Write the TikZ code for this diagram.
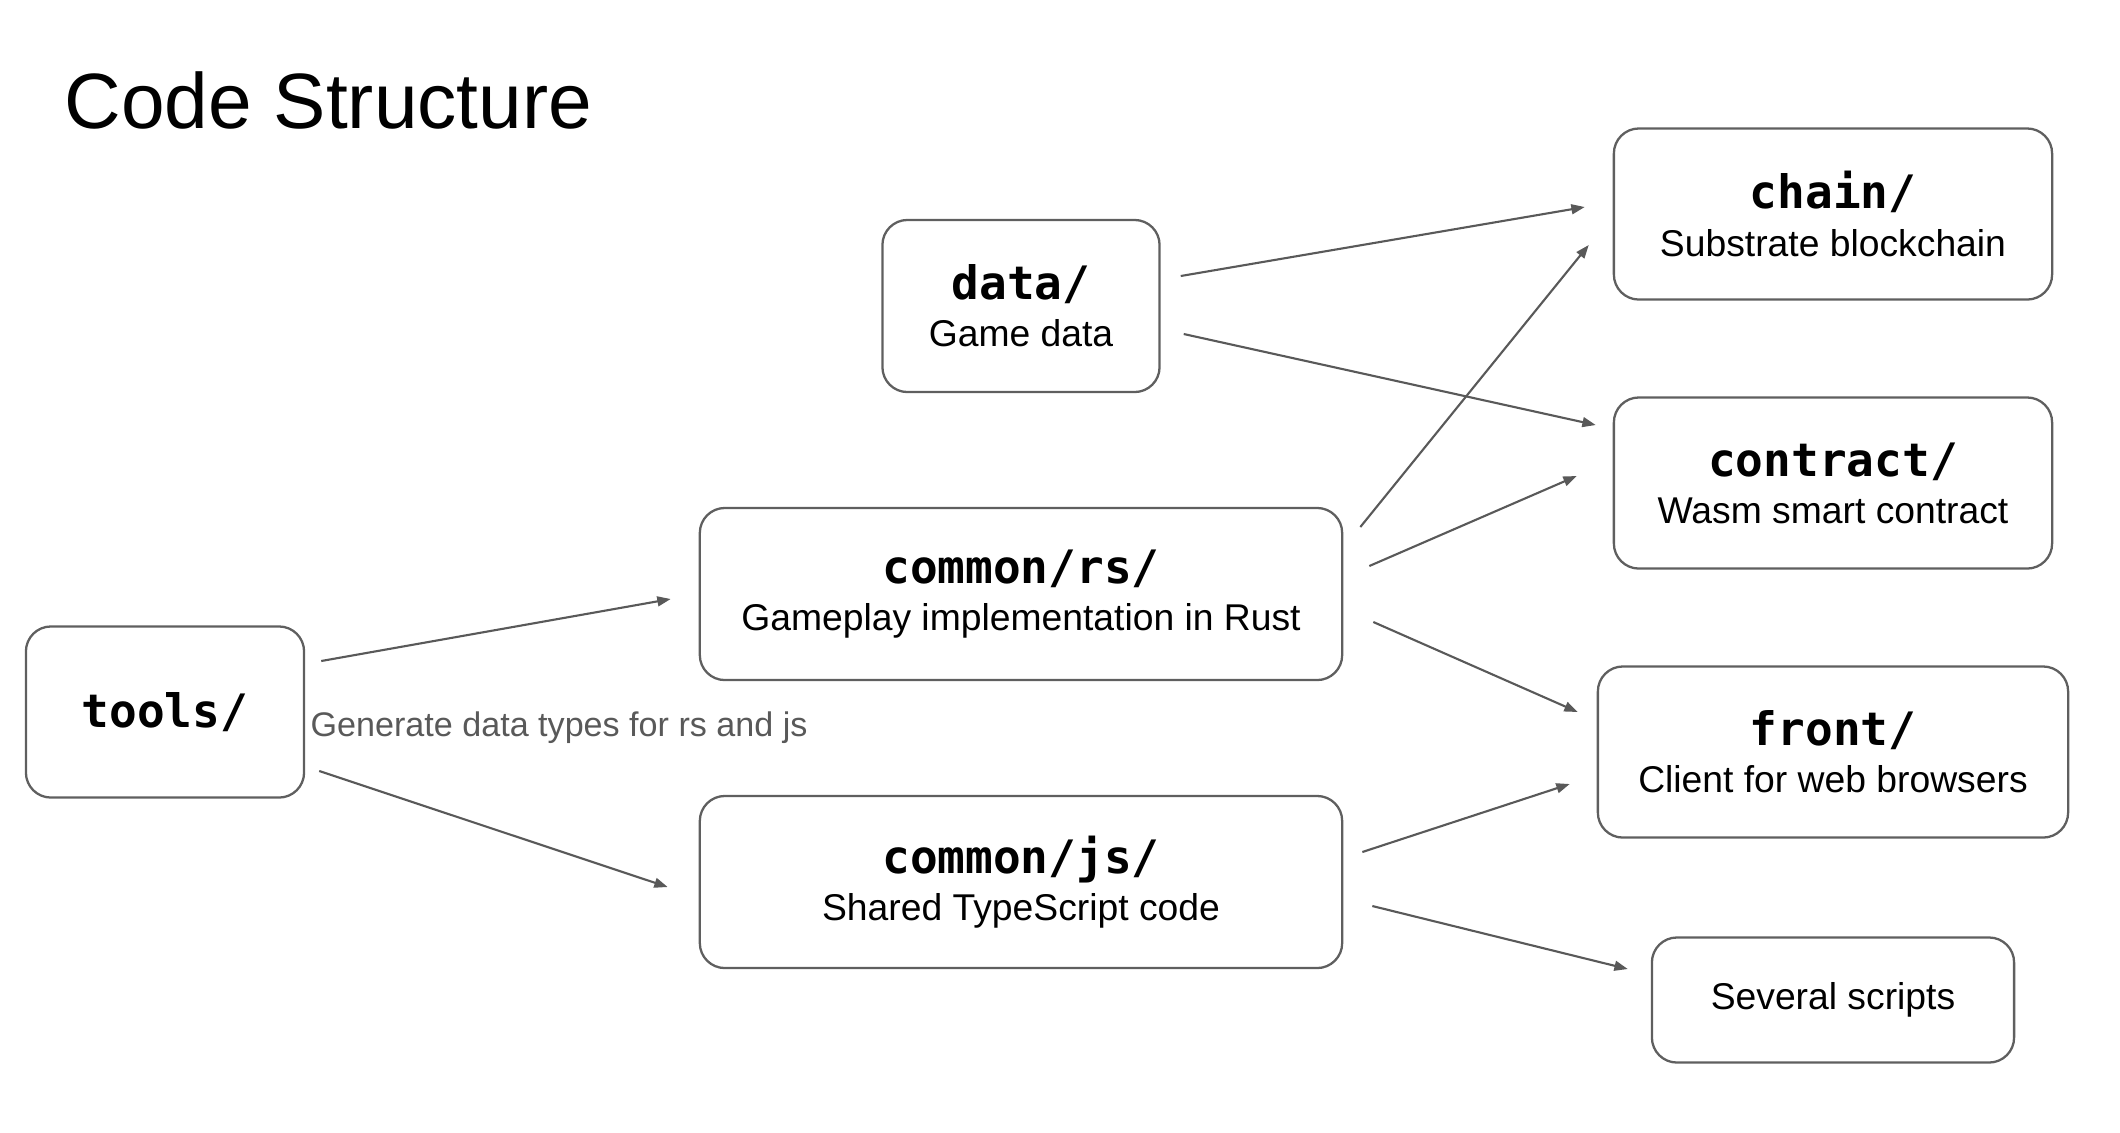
\documentclass[tikz,border=0pt]{standalone}
\usepackage{fontspec}
\setmainfont{Liberation Sans}
\newfontfamily\codefont{DejaVu Sans Mono}
\usetikzlibrary{arrows.meta,calc}

\definecolor{boxgray}{HTML}{5F5F5F}
\definecolor{linegray}{HTML}{595959}
\newcommand{\dirname}[1]{{\codefont\bfseries\fontsize{13.1}{13.1}\selectfont #1}}

\begin{document}
\begin{tikzpicture}
[x=0.01cm, y=-0.01cm,
box/.style={rectangle, draw=boxgray, line width=0.65pt, rounded corners=0.25cm, inner sep=0pt, align=center, font=\fontsize{10.6}{13.4}\selectfont},
link/.style={draw=linegray, line width=0.6pt, -{Triangle[length=3.8pt,width=2.8pt]}}]

\useasboundingbox (0,0) rectangle (2120,1132);

\node[anchor=base west, inner sep=0pt, font=\fontsize{22.3}{26}\selectfont] (title) at (64,128) {Code Structure};

% left and middle column
\node[box, minimum width=2.78cm, minimum height=1.71cm] (tools) at (165,712) {\dirname{tools/}};
\node[box, minimum width=2.77cm, minimum height=1.72cm] (data) at (1021,306) {\dirname{data/}\\Game data};
\node[box, minimum width=6.42cm, minimum height=1.72cm] (rs) at (1021,594) {\dirname{common/rs/}\\Gameplay implementation in Rust};
\node[box, minimum width=6.42cm, minimum height=1.72cm] (js) at (1021,882) {\dirname{common/js/}\\Shared TypeScript code};

% right column
\node[box, minimum width=4.38cm, minimum height=1.71cm] (chain) at (1833,214) {\dirname{chain/}\\Substrate blockchain};
\node[box, minimum width=4.38cm, minimum height=1.71cm] (contract) at (1833,483) {\dirname{contract/}\\Wasm smart contract};
\node[box, minimum width=4.70cm, minimum height=1.71cm] (front) at (1833,752) {\dirname{front/}\\Client for web browsers};
\node[box, minimum width=3.62cm, minimum height=1.25cm] (scripts) at (1833,1000) {Several scripts};

\node[anchor=base west, inner sep=0pt, text=linegray, font=\fontsize{9.7}{12}\selectfont] (gen) at (310,736) {Generate data types for rs and js};

\draw[link] ($(tools.east)+(16,-51)$) -- ($(rs.west)+(-28,5)$);
\draw[link] ($(tools.east)+(14,59)$) -- ($(js.west)+(-31,5)$);
\draw[link] ($(data.east)+(20,-30)$) -- ($(chain.west)+(-28,-7)$);
\draw[link] ($(data.east)+(23,28)$) -- ($(contract.west)+(-17,-58)$);
\draw[link] ($(rs.east)+(17,-67)$) -- ($(chain.west)+(-24,31)$);
\draw[link] ($(rs.east)+(26,-28)$) -- ($(contract.west)+(-36,-7)$);
\draw[link] ($(rs.east)+(30,28)$) -- ($(front.west)+(-19,-40)$);
\draw[link] ($(js.east)+(19,-30)$) -- ($(front.west)+(-27,32)$);
\draw[link] ($(js.east)+(29,24)$) -- ($(scripts.west)+(-23,-31)$);
\end{tikzpicture}
\end{document}
